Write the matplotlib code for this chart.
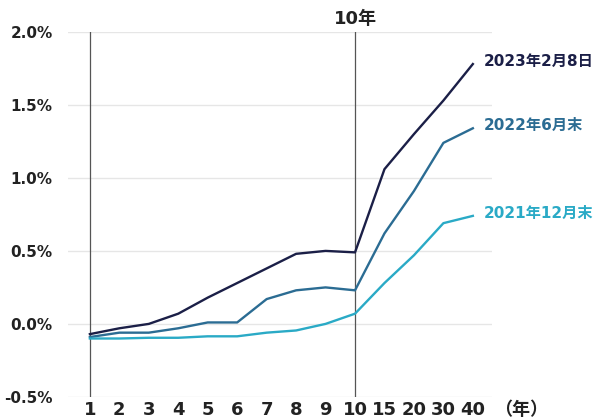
import numpy as np
import matplotlib
matplotlib.use("Agg")
import matplotlib.pyplot as plt

plt.rcParams['font.family'] = ['DejaVu Sans', 'Noto Sans CJK JP']

# tenors (years) and yields (%)
tenors = ['1', '2', '3', '4', '5', '6', '7', '8', '9', '10', '15', '20', '30', '40']
y_2023 = [-0.07, -0.03, 0.00, 0.07, 0.18, 0.28, 0.38, 0.48, 0.50, 0.49, 1.06, 1.30, 1.53, 1.78]
y_2022 = [-0.09, -0.06, -0.06, -0.03, 0.01, 0.01, 0.17, 0.23, 0.25, 0.23, 0.62, 0.91, 1.24, 1.34]
y_2021 = [-0.10, -0.10, -0.095, -0.095, -0.085, -0.085, -0.06, -0.045, 0.00, 0.07, 0.28, 0.47, 0.69, 0.74]
series_names = ['2023年2月8日', '2022年6月末', '2021年12月末']
colors = ['#1b1f47', '#2b6c93', '#2aaac6']
yticks = [-0.5, 0.0, 0.5, 1.0, 1.5, 2.0]

fig = plt.figure(figsize=(6, 4.2), dpi=100)
ax = fig.add_axes([0.113, 0.055, 0.707, 0.869])

x = np.arange(len(tenors))
for vals, name, c in zip([y_2023, y_2022, y_2021], series_names, colors):
    ax.plot(x, vals, color=c, lw=1.7, zorder=3)
    ax.annotate(name, (x[-1], vals[-1]), xytext=(8, 2), textcoords='offset points',
                color=c, fontsize=11, fontweight='bold', va='center', ha='left',
                annotation_clip=False)

ax.set_xlim(-0.75, 13.65)
ax.set_ylim(-0.5, 2.0)
ax.set_yticks(yticks)
ax.set_yticklabels([f'{v:.1f}%' for v in yticks], fontsize=11, fontweight='bold')
ax.set_xticks(x)
ax.set_xticklabels(tenors, fontsize=13, fontweight='bold')
ax.tick_params(length=0, pad=3, colors='#222222')
ax.tick_params(axis='y', pad=11)
ax.grid(axis='y', color='#e6e6e6', lw=1)
ax.set_axisbelow(True)
for s in ax.spines.values():
    s.set_visible(False)

# vertical reference lines at 1 and 10 years
ax.axvline(0, color='#555555', lw=0.9, zorder=2)
ax.axvline(9, color='#555555', lw=0.9, zorder=2)
ax.text(9, 2.025, '10年', ha='center', va='bottom', fontsize=13, fontweight='bold', color='#222222')
fig.text(0.823, 0.024, '（年）', ha='left', va='center', fontsize=13, fontweight='bold',
         color='#222222', family=['Noto Sans CJK JP'])

fig.savefig('out.png', dpi=100, facecolor='white')
